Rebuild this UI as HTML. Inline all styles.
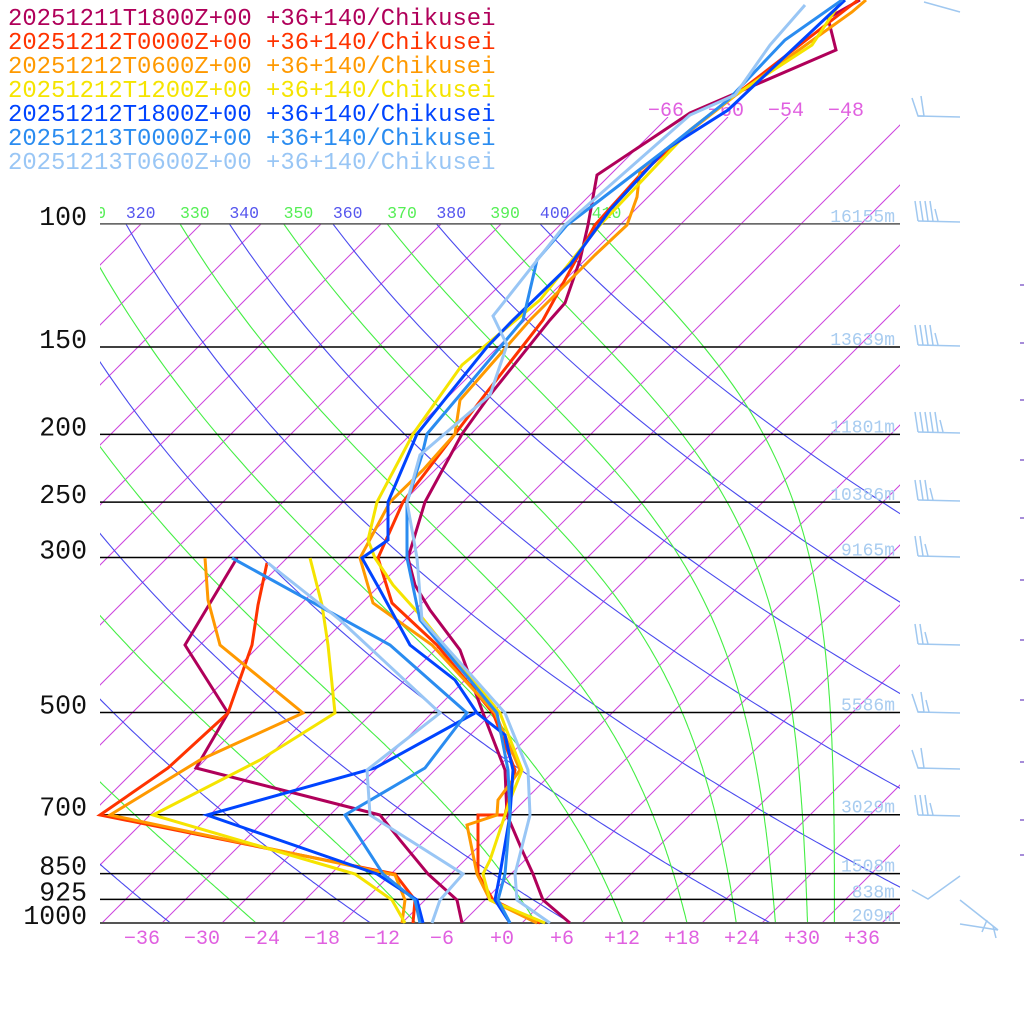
<!DOCTYPE html>
<html><head><meta charset="utf-8">
<style>
html,body{margin:0;padding:0;background:#fff;}
svg{display:block;}
text{font-family:"Liberation Mono","DejaVu Sans Mono",monospace;}
</style></head>
<body>
<svg id="s" width="1024" height="1024" viewBox="0 0 1024 1024" xmlns="http://www.w3.org/2000/svg">
<defs>
<clipPath id="cIso"><rect x="100" y="117" width="800" height="806"/></clipPath>
<clipPath id="cAd"><rect x="100" y="224" width="800" height="699"/></clipPath>
<clipPath id="cLab"><rect x="100" y="190" width="540" height="34"/></clipPath>
</defs>
<g id="iso" clip-path="url(#cIso)" stroke="#cc44dd" stroke-width="1" fill="none"></g>
<g id="dry" clip-path="url(#cAd)" stroke="#4a4aee" stroke-width="1.1" fill="none"></g>
<g id="moist" clip-path="url(#cAd)" stroke="#44ee44" stroke-width="1.1" fill="none"></g>
<g id="lab" clip-path="url(#cLab)" font-size="16.5"></g>
<g id="plines" stroke="#000" stroke-width="1.5"></g>
<g id="plab" font-size="26.5" fill="#111" text-anchor="end"></g>
<g id="hlab" font-size="18" fill="#a8ccf0" text-anchor="end"></g>
<g id="tlab" font-size="20" fill="#e060e0" text-anchor="middle"></g>
<g id="toplab" font-size="20" fill="#e060e0"></g>
<g id="series" fill="none" stroke-width="3" stroke-linejoin="miter"></g>
<g id="barbs" stroke="#a0c8f0" stroke-width="1.5" fill="none"></g>
<g id="legend" font-size="23.9"></g>
</svg>
<script>
var NS="http://www.w3.org/2000/svg";
function el(g,tag,attrs,txt){var e=document.createElementNS(NS,tag);for(var k in attrs)e.setAttribute(k,attrs[k]);if(txt!==undefined)e.textContent=txt;document.getElementById(g).appendChild(e);return e;}
function Y(p){return 923-303.6*Math.log(1000/p);}
function X(T,y){return 502+10*T+(923-y);}
for(var T=-130;T<=50;T+=6){
  var yt=(T>=-66)?117:224;
  el("iso","line",{x1:X(T,923),y1:923,x2:X(T,yt),y2:yt});
}
[-66,-60,-54,-48].forEach(function(T){el("toplab","text",{x:X(T,117),y:116},(T<0?"\u2212":"+")+Math.abs(T));});
var ps=[];for(var p=1000;p>=95;p-=5)ps.push(p);
for(var th=220;th<=400;th+=20){
  var pts=ps.map(function(p){var TK=th*Math.pow(p/1000,0.286);var y=Y(p);return X(TK-273.15,y).toFixed(1)+","+y.toFixed(1);});
  el("dry","polyline",{points:pts.join(" ")});
}
function thetaE(TK,p){var tc=TK-273.15;var e=6.112*Math.exp(17.67*tc/(tc+243.5));if(e>p*0.3)return 1e9;var r=0.622*e/(p-e);return TK*Math.pow(1000/p,0.2854*(1-0.28*r))*Math.exp((3.376/TK-0.00254)*r*1000*(1+0.81*r));}
function solve(te,p){var a=150,b=330;for(var i=0;i<60;i++){var m=(a+b)/2;if(thetaE(m,p)>te)b=m;else a=m;}return (a+b)/2;}
for(var te=230;te<=410;te+=20){
  var pts=ps.map(function(p){var TK=solve(te,p);var y=Y(p);return X(TK-273.15,y).toFixed(1)+","+y.toFixed(1);});
  el("moist","polyline",{points:pts.join(" ")});
}
for(var th=300;th<=410;th+=10){
  var x;var col;
  if(th%20==0){x=X(th*Math.pow(0.1,0.286)-273.15,224);col="#5555ee";}
  else{x=X(solve(th,100)-273.15,224);col="#55ee55";}
  el("lab","text",{x:x,y:218,fill:col},""+th);
}
var P=[[100,"16155m"],[150,"13639m"],[200,"11801m"],[250,"10386m"],[300,"9165m"],[500,"5586m"],[700,"3029m"],[850,"1508m"],[925,"838m"],[1000,"209m"]];
P.forEach(function(a){var y=Y(a[0]);
  el("plines","line",{x1:100,y1:y,x2:900,y2:y,stroke:(a[0]==1000||a[0]==100)?"#555":"#000",'stroke-width':a[0]==1000?2:1.5});
  el("plab","text",{x:87,y:y+1},""+a[0]);
  el("hlab","text",{x:895,y:y-2},a[1]);
});
for(var T=-36;T<=36;T+=6){el("tlab","text",{x:502+10*T,y:944},(T<0?"\u2212":"+")+Math.abs(T));}
var S=[
["#b0005a",[[860,0],[828,18],[836,50],[690,113],[597,175],[588,225],[580,260],[565,303],[550,320],[490,395],[462,434],[425,502],[408,558],[415,585],[430,610],[460,650],[483,713],[505,770],[507,815],[522,850],[533,874],[543,900],[570,923]],
 [[237,558],[185,645],[228,713],[196,768],[380,815],[400,840],[428,874],[457,900],[462,923]]],
["#ff3300",[[858,0],[735,95],[690,130],[640,175],[595,225],[543,320],[487,392],[455,434],[403,502],[378,558],[392,603],[437,645],[493,713],[515,770],[505,815],[478,815],[478,874],[493,900],[540,923]],
 [[267,563],[258,605],[252,645],[228,713],[168,768],[100,815],[395,874],[415,900],[413,923]]],
["#ff9900",[[866,0],[852,12],[736,95],[640,170],[637,197],[627,225],[595,255],[530,320],[460,400],[455,434],[423,470],[390,502],[360,558],[373,603],[432,645],[495,713],[520,770],[498,800],[497,815],[467,825],[477,874],[490,900],[537,923]],
 [[205,558],[208,600],[220,645],[303,713],[200,760],[110,815],[395,875],[405,900],[402,923]]],
["#f5e400",[[842,0],[812,45],[735,95],[690,130],[600,225],[540,300],[462,365],[413,434],[377,502],[368,540],[375,558],[393,585],[420,615],[440,640],[500,713],[522,770],[510,800],[490,860],[483,874],[490,900],[545,923]],
 [[310,558],[322,605],[328,645],[335,713],[260,760],[153,815],[355,874],[392,900],[405,923]]],
["#0044ff",[[845,0],[728,110],[665,150],[610,210],[570,265],[513,320],[487,347],[417,434],[388,502],[388,540],[362,558],[380,590],[410,645],[455,680],[477,713],[505,735],[513,770],[510,815],[500,874],[495,900],[510,923]],
 [[475,713],[375,768],[207,815],[377,874],[417,900],[423,923]]],
["#2a8cf0",[[842,0],[785,40],[728,100],[665,150],[600,200],[567,225],[537,260],[523,320],[427,434],[422,455],[407,502],[407,558],[420,620],[470,680],[497,713],[508,770],[510,815],[505,874],[498,900],[510,923]],
 [[232,558],[390,645],[467,713],[425,768],[345,815],[383,874],[415,900],[420,923]]],
["#99c6f5",[[805,5],[770,45],[735,95],[690,115],[565,225],[493,316],[507,345],[490,395],[420,455],[407,502],[417,558],[422,620],[505,713],[528,770],[530,815],[515,874],[517,900],[550,923]],
 [[268,563],[340,620],[440,713],[367,770],[370,815],[463,874],[440,900],[432,923]]]
];
S.forEach(function(s){
  el("series","polyline",{points:s[1].map(function(q){return q.join(",");}).join(" "),stroke:s[0]});
  el("series","polyline",{points:s[2].map(function(q){return q.join(",");}).join(" "),stroke:s[0]});
});
function barb(y,n,flag){
  el("barbs","line",{x1:918,y1:y,x2:960,y2:y+1});
  var x0=918;
  if(flag){el("barbs","polyline",{points:(x0-6)+","+(y-18)+" "+x0+","+y+" "+(x0+6)+","+y});x0+=6;}
  for(var i=0;i<n;i++){var xx=x0+i*5;var len=(i==n-1&&n>1)?12:20;el("barbs","line",{x1:xx,y1:y,x2:xx-3,y2:y-len});}
}
el("barbs","line",{x1:924,y1:2,x2:960,y2:12});
barb(116,1,true);barb(221,5);barb(345,5);barb(432,6);barb(500,4);barb(556,3);
barb(644,3);barb(712,2,true);barb(768,1,true);barb(815,4);
el("barbs","polyline",{points:"912,890 928,899 960,876"});
el("barbs","polyline",{points:"960,900 998,930"});
el("barbs","polyline",{points:"960,924 998,930"});
el("barbs","line",{x1:987,y1:920,x2:982,y2:932});
el("barbs","line",{x1:993,y1:926,x2:996,y2:938});
[285,343,400,460,518,580,640,700,762,820,855].forEach(function(y){el("barbs","line",{x1:1020,y1:y,x2:1024,y2:y,stroke:"#8866cc"});});
var L=[["20251211T1800Z+00","#b0005a"],["20251212T0000Z+00","#ff3300"],["20251212T0600Z+00","#ff9900"],["20251212T1200Z+00","#f5e400"],["20251212T1800Z+00","#0044ff"],["20251213T0000Z+00","#2a8cf0"],["20251213T0600Z+00","#99c6f5"]];
L.forEach(function(a,i){el("legend","text",{x:8,y:25+24*i,fill:a[1]},a[0]+" +36+140/Chikusei");});
</script>
</body></html>
